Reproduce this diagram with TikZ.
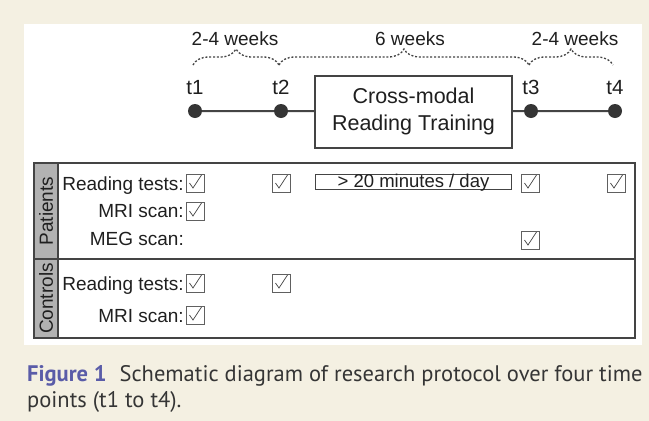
\documentclass[tikz,border=0pt]{standalone}
\usepackage{fontspec}
\setmainfont{Liberation Sans}
\newfontfamily\captionfont{PT Sans}
\usetikzlibrary{decorations.pathreplacing}
\definecolor{paper}{HTML}{F4F0E2}
\definecolor{ink}{HTML}{1F1F1F}
\definecolor{rule}{HTML}{444444}
\definecolor{sidebar}{HTML}{B2B2B2}
\definecolor{figblue}{HTML}{5A5CA8}
\begin{document}
\begin{tikzpicture}[x=1pt, y=-1pt,
    txt/.style={font=\fontsize{19}{22}\selectfont, text=ink, inner sep=0pt},
    dot/.style={circle, fill=ink!90, inner sep=0pt, minimum size=14pt},
    chkbox/.style={draw=rule!85, line width=1pt, minimum size=18pt, inner sep=0pt,
      path picture={\draw[rule, line width=0.7pt] ([shift={(-5.5pt,0pt)}]path picture bounding box.center) -- ++(3.5,5) -- ++(8.5,-13);}},
    wk/.style={decorate, decoration={brace, amplitude=16pt}, rule, line width=1.3pt, dash pattern=on 2pt off 1.8pt}]
    \fill[paper] (0,0) rectangle (649,421);
    \fill[white] (24,24) rectangle (642,345);
    \useasboundingbox (0,0) rectangle (649,421);
    \foreach \n/\x in {1/195, 2/281, 3/531, 4/615} {
      \node[dot] (t\n) at (\x,111) {};
      \node[txt, font=\fontsize{20.5}{24}\selectfont, anchor=base] (tl\n) at (\x,94) {t\n};
    }
    \node[draw=rule, line width=2pt, minimum width=197pt, minimum height=72pt, txt,
      font=\fontsize{21.5}{27}\selectfont, align=center] (train) at (413.5,111.5) {Cross-modal\\Reading Training};
    \draw[rule, line width=2pt] (t1) -- (t2) -- (train) -- (t3) -- (t4);
    \foreach \a/\b in {1/2, 2/3, 3/4}
      \draw[wk] ([shift={(-2,-46)}]t\a.center) -- ([shift={(-2,-46)}]t\b.center);
    \node[txt, anchor=base] (wk12) at (235,45) {2-4 weeks};
    \node[txt, anchor=base] (wk23) at (410,45) {6 weeks};
    \node[txt, anchor=base] (wk34) at (575,45) {2-4 weeks};
    \fill[sidebar] (34,163) rectangle (58,338);
    \draw[rule, line width=1.5pt] (58,163) -- (58,338) (34,259) -- (635,259);
    \draw[rule, line width=2.5pt] (34,163) rectangle (635,338);
    \node[txt, rotate=90] (patients) at (46,211) {Patients};
    \node[txt, rotate=90] (controls) at (46,298.5) {Controls};
    \foreach \lbl/\y [count=\r] in {Reading tests:/190, MRI scan:/217, MEG scan:/245}
      \node[txt, anchor=base east] (prow\r) at (184,\y) {\lbl};
    \foreach \lbl/\y [count=\r] in {Reading tests:/290, MRI scan:/322}
      \node[txt, anchor=base east] (crow\r) at (184,\y) {\lbl};
    \foreach \x/\y [count=\k] in {195/183, 281/183, 530/183, 616/183, 195/211, 530/240, 195/283, 281/283, 195/315}
      \node[chkbox] (chk\k) at (\x,\y) {};
    \node[draw=rule, line width=1.2pt, txt, font=\fontsize{18.5}{22}\selectfont, minimum width=196pt, minimum height=15pt,
      text height=12pt, text depth=2pt] (mins) at (413.5,182) {> 20 minutes / day};
    \node[anchor=base west, inner sep=0pt, text=ink!90, font=\captionfont\fontsize{22.5}{26}\selectfont] (capA) at (27,381)
      {{\color{figblue}\bfseries Figure 1}\hspace{13pt}Schematic diagram of research protocol over four time};
    \node[anchor=base west, inner sep=0pt, text=ink!90, font=\captionfont\fontsize{22.5}{26}\selectfont] (capB) at (27,407)
      {points (t1 to t4).};
\end{tikzpicture}
\end{document}
